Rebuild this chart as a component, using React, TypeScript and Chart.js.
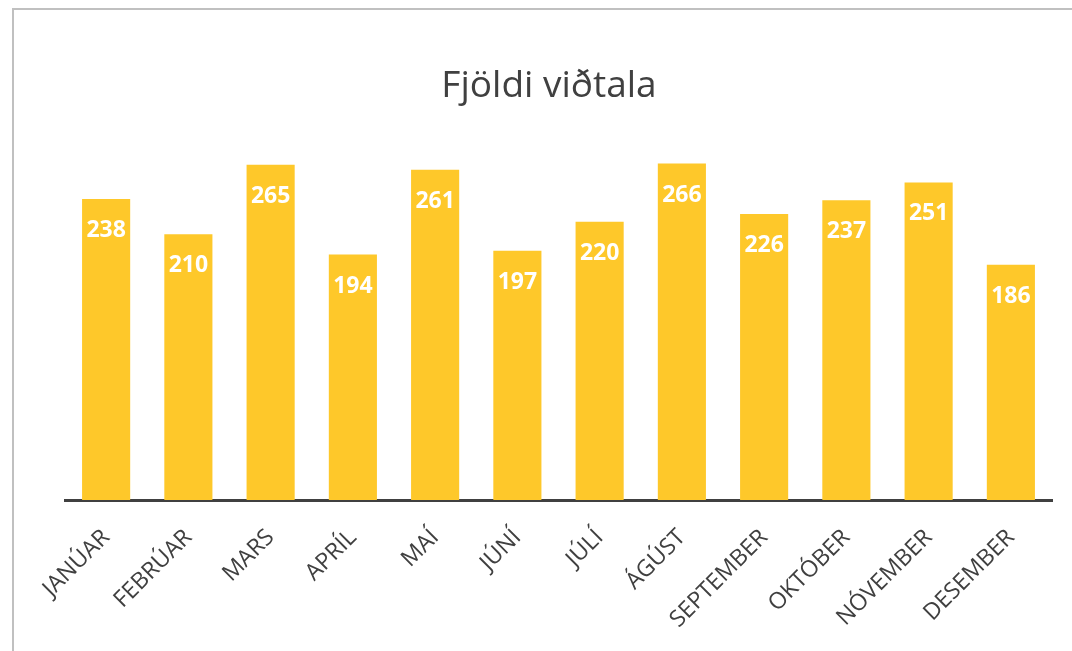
import React, { useEffect, useRef } from "react";
import { Chart, registerables } from "chart.js";

Chart.register(...registerables);

const months = [
  "JANÚAR", "FEBRÚAR", "MARS", "APRÍL", "MAÍ", "JÚNÍ",
  "JÚLÍ", "ÁGÚST", "SEPTEMBER", "OKTÓBER", "NÓVEMBER", "DESEMBER",
];
const interviews = [238, 210, 265, 194, 261, 197, 220, 266, 226, 237, 251, 186];
const chartTitle = "Fjöldi viðtala";

const barColor = "#FEC82A";
const textColor = "#404040";

const valueLabels = {
  id: "valueLabels",
  afterDatasetsDraw(chart: any) {
    const ctx = chart.ctx;
    const meta = chart.getDatasetMeta(0);
    ctx.save();
    ctx.fillStyle = "#ffffff";
    ctx.font = "bold 23px 'Open Sans'";
    ctx.textAlign = "center";
    ctx.textBaseline = "alphabetic";
    meta.data.forEach((bar: any, i: number) => {
      const v = chart.data.datasets[0].data[i];
      ctx.fillText(String(v), bar.x, bar.y + 38);
    });
    ctx.restore();
  },
};

const titlePlugin = {
  id: "customTitle",
  afterDraw(chart: any) {
    const ctx = chart.ctx;
    ctx.save();
    ctx.fillStyle = textColor;
    ctx.font = "37px 'Open Sans'";
    ctx.textAlign = "center";
    ctx.textBaseline = "alphabetic";
    ctx.fillText(chartTitle, 549, 97);
    ctx.restore();
  },
};

export default function App() {
  const ref = useRef<HTMLCanvasElement>(null);
  useEffect(() => {
    if (!ref.current) return;
    const chart = new Chart(ref.current, {
      type: "bar",
      data: {
        labels: months,
        datasets: [
          {
            data: interviews,
            backgroundColor: barColor,
            borderWidth: 0,
            categoryPercentage: 1,
            barPercentage: 0.585,
          },
        ],
      },
      options: {
        responsive: false,
        animation: false,
        layout: { padding: { left: 65, right: 20, top: 120.5, bottom: 0 } },
        plugins: {
          legend: { display: false },
          tooltip: { enabled: false },
          title: { display: false },
        },
        scales: {
          x: {
            grid: { display: false, drawTicks: false },
            border: { display: true, color: "#404040", width: 3 },
            ticks: {
              color: textColor,
              font: { family: "'Open Sans'", size: 23 },
              maxRotation: 45,
              minRotation: 45,
              padding: 24,
              labelOffset: 0,
            },
            afterFit: (scale: any) => {
              scale.height = 151;
              scale.paddingLeft = 0;
              scale.paddingRight = 0;
            },
          },
          y: {
            display: false,
            min: 0,
            max: 300,
          },
        },
      },
      plugins: [valueLabels, titlePlugin],
    });
    return () => chart.destroy();
  }, []);
  return (
    <div style={{ position: "fixed", left: 0, top: 0, width: 1072, height: 651, background: "#fff", overflow: "hidden" }}>
      <div
        style={{
          position: "absolute",
          left: 12,
          top: 8,
          width: 1200,
          height: 800,
          borderLeft: "2px solid #c0c0c0",
          borderTop: "2px solid #c0c0c0",
        }}
      />
      <canvas ref={ref} width={1072} height={651} style={{ position: "absolute", left: 0, top: 0 }} />
    </div>
  );
}
